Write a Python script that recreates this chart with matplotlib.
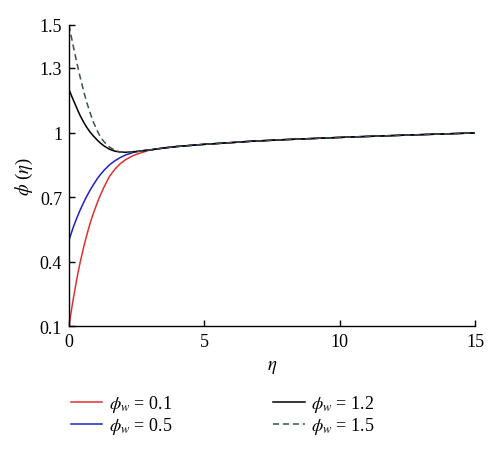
import matplotlib
matplotlib.use("Agg")
import matplotlib.pyplot as plt

plt.rcParams['font.family'] = ['Liberation Serif', 'DejaVu Serif']
plt.rcParams['mathtext.fontset'] = 'stix'

# eta sample points
eta = [0, 0.08, 0.16, 0.3, 0.41, 0.55, 0.65, 0.78, 0.9, 1.05, 1.15, 1.3, 1.5,
       1.7, 1.9, 2.1, 2.25, 2.4, 2.6, 2.8,
       3, 3.5, 4, 5, 6, 6.7, 8, 9, 10.4, 12.5, 15]
tail = [0.919, 0.928, 0.935, 0.945, 0.953, 0.959, 0.967, 0.972, 0.979, 0.988, 0.998]
phi_01 = [0.1, 0.166, 0.228, 0.327, 0.395, 0.471, 0.52, 0.578, 0.624, 0.675, 0.706,
          0.748, 0.797, 0.830, 0.856, 0.874, 0.885, 0.894, 0.903, 0.911] + tail
phi_05 = [0.5, 0.530, 0.560, 0.606, 0.639, 0.677, 0.702, 0.732, 0.757, 0.786, 0.803,
          0.825, 0.850, 0.869, 0.884, 0.896, 0.902, 0.908, 0.913, 0.917] + tail
phi_12 = [1.2, 1.175, 1.151, 1.110, 1.079, 1.046, 1.025, 1.002, 0.984, 0.964, 0.952,
          0.937, 0.922, 0.913, 0.909, 0.908, 0.909, 0.911, 0.913, 0.916] + tail
phi_15 = [1.5, 1.449, 1.400, 1.319, 1.258, 1.188, 1.143, 1.091, 1.049, 1.006, 0.982,
          0.956, 0.932, 0.917, 0.909, 0.907, 0.908, 0.910, 0.913, 0.916] + tail

labels = [r"$\phi_w$ = 0.1", r"$\phi_w$ = 0.5", r"$\phi_w$ = 1.2", r"$\phi_w$ = 1.5"]
xticks = [0, 5, 10, 15]
yticks = [0.1, 0.4, 0.7, 1.0, 1.3, 1.5]
yticklabels = ["0.1", "0.4", "0.7", "1", "1.3", "1.5"]

fig = plt.figure(figsize=(5, 4.52), dpi=100)
ax = fig.add_axes([0.138, 0.2765, 0.812, 0.666])

ax.plot(eta, phi_01, color='#e03030', lw=1.1, label=labels[0])
ax.plot(eta, phi_05, color='#2020c8', lw=1.1, label=labels[1])
ax.plot(eta, phi_12, color='black', lw=1.1, label=labels[2])
ax.plot(eta, phi_15, color='#3a5646', lw=1.1, ls=(0, (4, 2.5)), label=labels[3])

ax.set_xlim(0, 15)
ax.set_ylim(0.1, 1.5)
ax.set_xticks(xticks)
ax.set_xticklabels([str(t) for t in xticks])
ax.set_yticks(yticks)
ax.set_yticklabels(yticklabels)
ax.spines['top'].set_visible(False)
ax.spines['right'].set_visible(False)
for s in ('left', 'bottom'):
    ax.spines[s].set_linewidth(1.0)
ax.tick_params(direction='in', length=4, width=1.0, labelsize=13, pad=5)

ax.set_xlabel(r"$\eta$", fontsize=13.5, labelpad=6)
ax.set_ylabel(r"$\phi$ ($\eta$)", fontsize=13.5, labelpad=3)

leg = fig.legend(ncol=2, loc='upper left', bbox_to_anchor=(0.127, 0.144),
                 frameon=False, fontsize=13, handlelength=1.75,
                 handletextpad=0.35, columnspacing=5.6, labelspacing=0.05,
                 borderaxespad=0)

fig.savefig("out.png", dpi=100)
